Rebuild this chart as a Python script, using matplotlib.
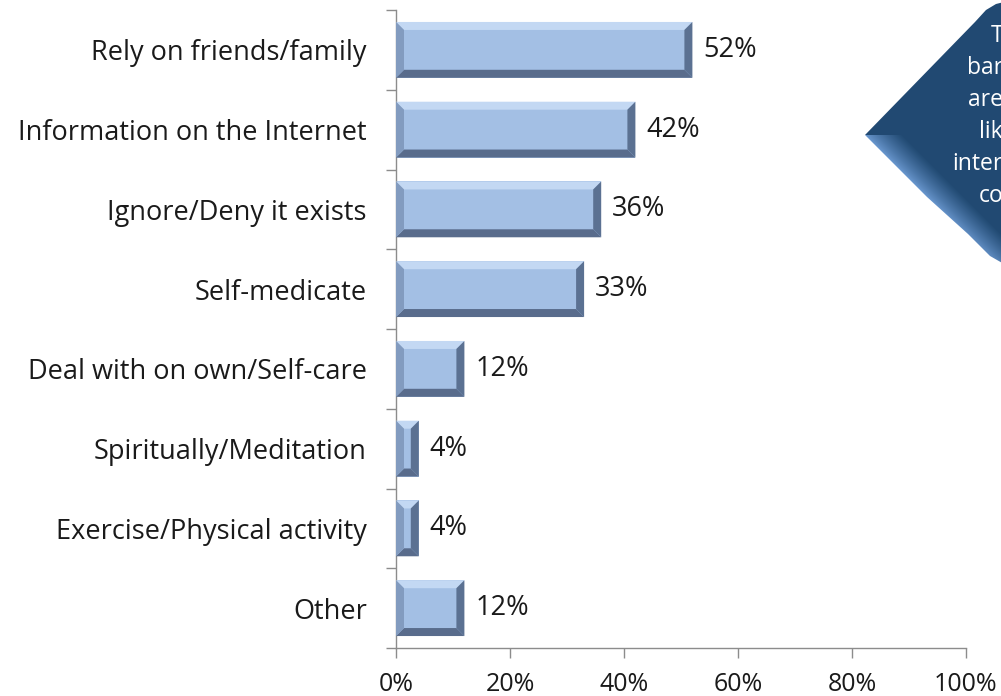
import numpy as np
import matplotlib.pyplot as plt
from matplotlib.patches import Polygon

plt.rcParams['font.family'] = ['Open Sans', 'DejaVu Sans']

# Data
categories = ['Rely on friends/family', 'Information on the Internet', 'Ignore/Deny it exists',
              'Self-medicate', 'Deal with on own/Self-care', 'Spiritually/Meditation',
              'Exercise/Physical activity', 'Other']
values = [52, 42, 36, 33, 12, 4, 4, 12]
xticks = [0, 20, 40, 60, 80, 100]
callout_lines = ['T', 'bar', 'are', 'lik', 'inter', 'co']

W, H = 1001, 696
fig = plt.figure(figsize=(W / 100, H / 100), dpi=100)
ax = fig.add_axes([396 / W, 1 - 648 / H, 570 / W, 638 / H])

y = np.arange(len(categories))
h = 0.70
face = '#a3bfe4'
ax.barh(y, values, height=h, color=face, edgecolor='none', zorder=2)

# bevel edges, sized in pixels
bx = 8 / 570 * 100
by = 8 / 79.75
for yi, v in zip(y, values):
    b = min(bx, v * 0.4)
    top, bot = yi - h / 2, yi + h / 2
    ax.add_patch(Polygon([(0, top), (v, top), (v - b, top + by), (b, top + by)],
                         color='#c3d8f3', zorder=3, lw=0))
    ax.add_patch(Polygon([(0, bot), (v, bot), (v - b, bot - by), (b, bot - by)],
                         color='#596c8c', zorder=3, lw=0))
    ax.add_patch(Polygon([(0, top), (b, top + by), (b, bot - by), (0, bot)],
                         color='#829bbf', zorder=3, lw=0))
    ax.add_patch(Polygon([(v, top), (v - b, top + by), (v - b, bot - by), (v, bot)],
                         color='#5b7192', zorder=3, lw=0))
    ax.text(v + 1.9, yi, f'{v}%', va='center', ha='left', fontsize=19.5, color='#1a1a1a')

ax.set_xlim(0, 100)
ax.set_ylim(len(categories) - 0.5, -0.5)

ax.set_yticks(y)
ax.set_yticklabels(categories, fontsize=19.5, color='#1a1a1a')
ax.set_yticks(np.arange(-0.5, len(categories)), minor=True)
ax.tick_params(axis='y', which='major', length=0, pad=21)
ax.tick_params(axis='y', which='minor', length=7, color='#8c8c8c', width=1)

ax.set_xticks(xticks)
ax.set_xticklabels([f'{t}%' for t in xticks], fontsize=18, color='#1a1a1a')
ax.tick_params(axis='x', length=7, color='#8c8c8c', width=1, pad=10)

for s in ['top', 'right']:
    ax.spines[s].set_visible(False)
for s in ['left', 'bottom']:
    ax.spines[s].set_color('#8c8c8c')
    ax.spines[s].set_linewidth(1)

# callout shape at the right edge, drawn in pixel coordinates
cax = fig.add_axes([0, 0, 1, 1], zorder=5)
cax.set_xlim(0, W)
cax.set_ylim(H, 0)
cax.axis('off')
cax.patch.set_alpha(0)

shape = Polygon([(865, 135), (975, 22), (986, 10), (996, 4), (1004, 2), (1004, 264),
                 (990, 256), (968, 234), (927, 197)], closed=True,
                facecolor='none', edgecolor='none')
cax.add_patch(shape)

gx, gy = np.meshgrid(np.arange(855, 1005), np.arange(0, 270))
d = ((gx - 865) - (gy - 135)) / np.sqrt(2)
t = np.clip(d / 26, 0, 1) ** 0.8
t[gy < 135] = 1
light = np.array([0.42, 0.60, 0.82])
dark = np.array([0.13, 0.29, 0.45])
img = light * (1 - t[..., None]) + dark * t[..., None]
im = cax.imshow(img, extent=(855, 1005, 270, 0), interpolation='bilinear', zorder=5)
im.set_clip_path(shape)
cax.set_xlim(0, W)
cax.set_ylim(H, 0)

for i, line in enumerate(callout_lines):
    cax.text(1003, 36 + i * 32, line, ha='right', va='center',
             fontsize=16.5, color='white', zorder=6)

fig.savefig('out.png', dpi=100)
